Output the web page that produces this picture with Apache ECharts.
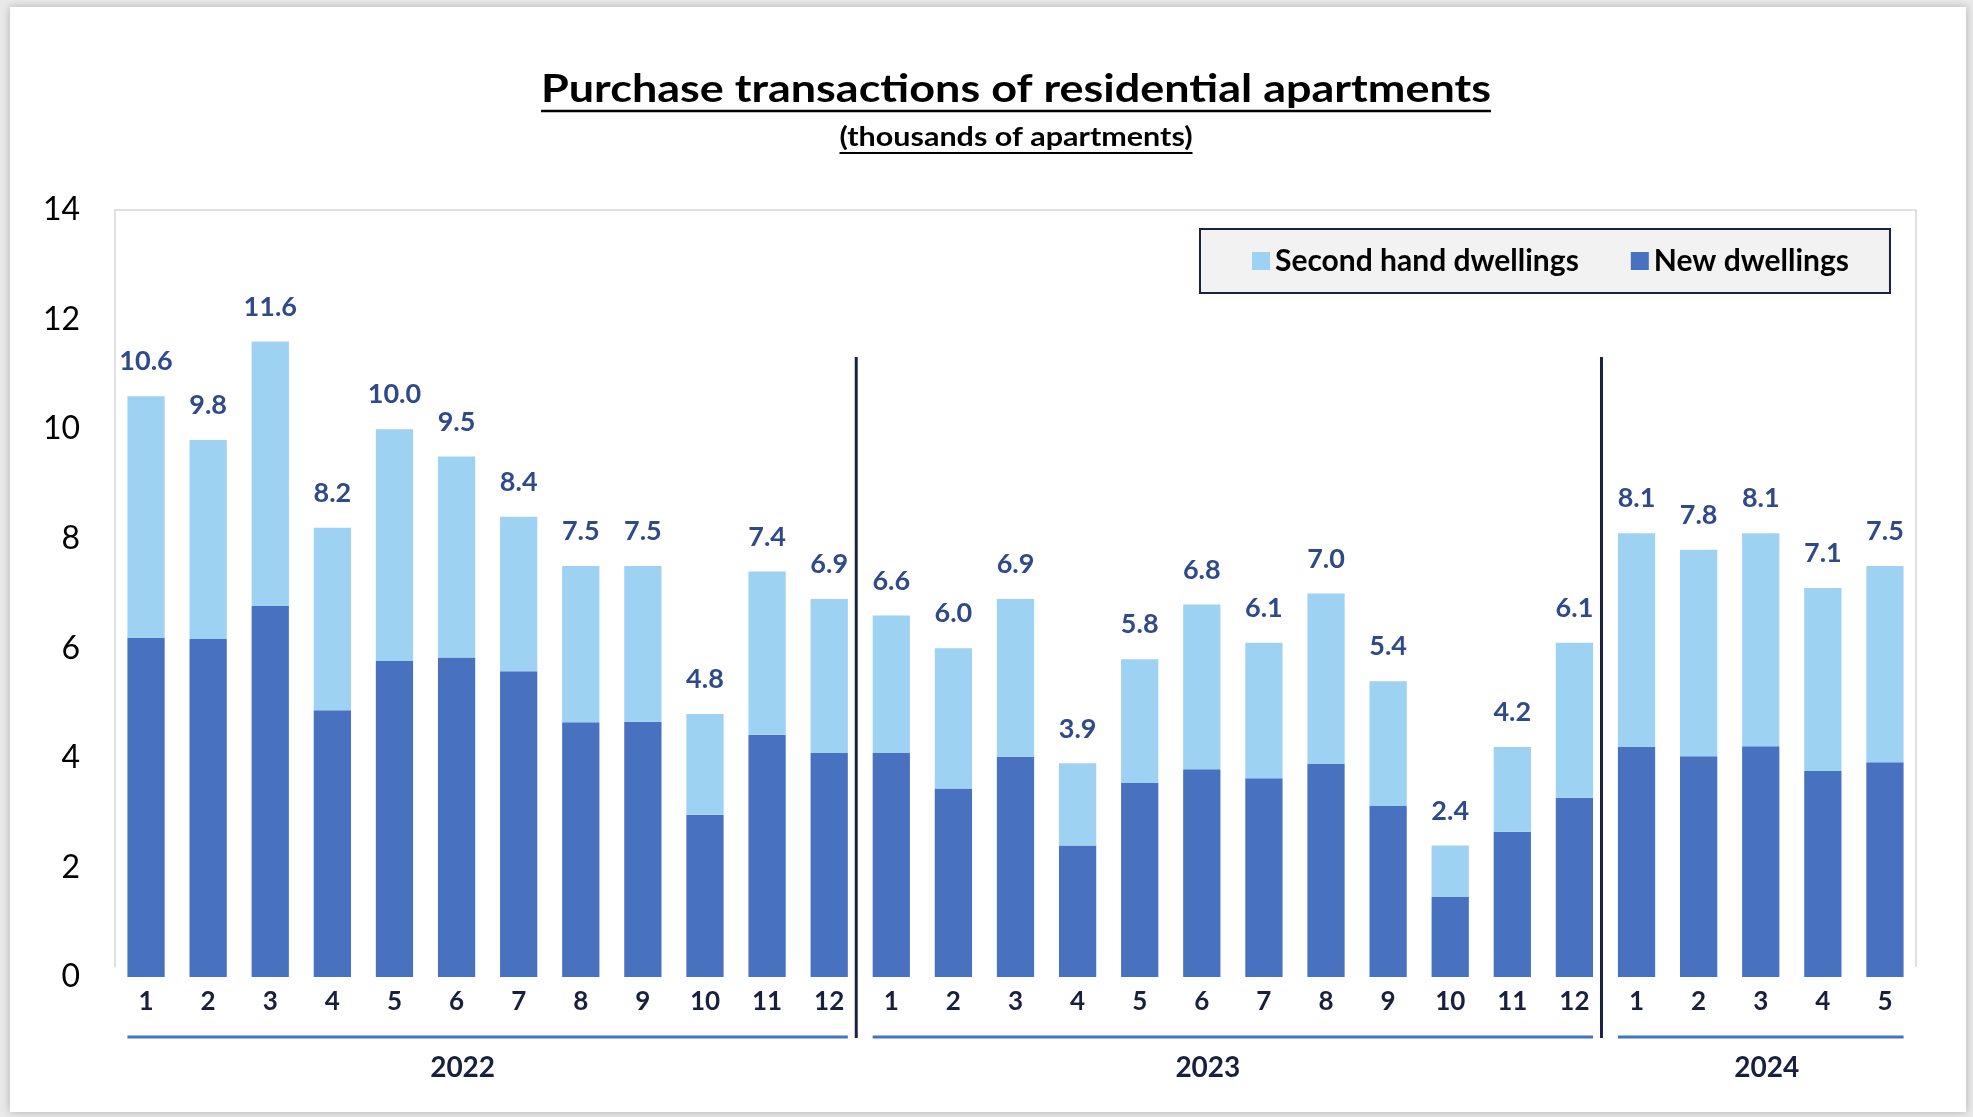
<!DOCTYPE html>
<html><head><meta charset="utf-8">
<script src="https://cdn.jsdelivr.net/npm/echarts@6/dist/echarts.min.js"></script>
<style>html,body{margin:0;padding:0;background:#e9e9e9;}#c{width:1973px;height:1117px;}</style>
</head><body><div id="c"></div>
<script>
// ---- data ----
const years = ['2022', '2023', '2024'];
const months2022 = ['1','2','3','4','5','6','7','8','9','10','11','12'];
const months2023 = ['1','2','3','4','5','6','7','8','9','10','11','12'];
const months2024 = ['1','2','3','4','5'];
const newDwellings = [6.19, 6.17, 6.77, 4.87, 5.77, 5.83, 5.58, 4.65, 4.66, 2.96, 4.42, 4.09,
                      4.09, 3.44, 4.02, 2.40, 3.54, 3.79, 3.63, 3.89, 3.12, 1.46, 2.65, 3.27,
                      4.20, 4.03, 4.21, 3.76, 3.92];
const secondHand = [4.41, 3.63, 4.83, 3.33, 4.23, 3.67, 2.82, 2.85, 2.84, 1.84, 2.98, 2.81,
                    2.51, 2.56, 2.88, 1.50, 2.26, 3.01, 2.47, 3.11, 2.28, 0.94, 1.55, 2.83,
                    3.90, 3.77, 3.89, 3.34, 3.58];
const yMin = 0, yMax = 14, yInterval = 2;
const seriesNames = ['Second hand dwellings', 'New dwellings'];
const titleText = 'Purchase transactions of residential apartments';
const subtitleText = '(thousands of apartments)';

// ---- build categories ----
const monthsByYear = [months2022, months2023, months2024];
const categories = [];
years.forEach((y, i) => monthsByYear[i].forEach(m => categories.push(y + '-' + m)));

const FONT = 'Lato, "Noto Sans", sans-serif';
const NAVY = '#18203d';
const GRID = {left: 115, right: 57, top: 210, bottom: 140};
const W = 1973, H = 1117;

const chart = echarts.init(document.getElementById('c'), null, {renderer: 'canvas', width: W, height: H});

const option = {
  animation: false,
  backgroundColor: '#e9e9e9',
  grid: Object.assign({show: false}, GRID),
  legend: {
    data: seriesNames,
    left: 1200, top: 229,
    icon: 'rect', itemWidth: 18, itemHeight: 18, itemGap: 52,
    backgroundColor: '#f2f2f2', borderColor: '#1a2240', borderWidth: 2,
    padding: [17, 41, 17, 52],
    textStyle: {fontFamily: FONT, fontWeight: 'bold', fontSize: 30, color: '#000'}
  },
  xAxis: {
    type: 'category', data: categories,
    axisLine: {show: false}, axisTick: {show: false},
    axisLabel: {interval: 0, formatter: v => v.split('-')[1], color: NAVY,
      fontFamily: FONT, fontWeight: 'bold', fontSize: 26, margin: 12}
  },
  yAxis: {
    type: 'value', min: yMin, max: yMax, interval: yInterval,
    splitLine: {show: false}, axisLine: {show: false}, axisTick: {show: false},
    axisLabel: {color: '#000', fontFamily: FONT, fontSize: 32, margin: 35}
  },
  series: [
    {name: seriesNames[1], type: 'bar', stack: 'total', data: newDwellings, barWidth: '60%',
     itemStyle: {color: '#4872c0'}, z: 3},
    {name: seriesNames[0], type: 'bar', stack: 'total', data: secondHand, barWidth: '60%',
     itemStyle: {color: '#9ed2f2'}, z: 3,
     label: {show: true, position: 'top', distance: 21,
       formatter: p => (newDwellings[p.dataIndex] + secondHand[p.dataIndex]).toFixed(1),
       color: '#2f4a8a', fontFamily: FONT, fontWeight: 'bold', fontSize: 27}}
  ]
};
chart.setOption(option);

// ---- decorations derived from the axis scale ----
const ctx = document.createElement('canvas').getContext('2d');
function textW(font, t) { ctx.font = font; return ctx.measureText(t).width; }

const px = i => chart.convertToPixel({xAxisIndex: 0}, categories[i]);
const band = px(1) - px(0);
const barHalf = band * 0.3;
const graphics = [];

// card
graphics.push({type: 'rect', z: -10, silent: true,
  shape: {x: 10, y: 7, width: W - 17, height: H - 12},
  style: {fill: '#ffffff', shadowBlur: 8, shadowColor: 'rgba(0,0,0,0.25)'}});
// plot border (top/left/right)
const gTop = GRID.top, gBot = H - GRID.bottom, gL = GRID.left, gR = W - GRID.right;
graphics.push({type: 'polyline', z: -5, silent: true,
  shape: {points: [[gL, gBot - 10], [gL, gTop], [gR, gTop], [gR, gBot - 10]]},
  style: {stroke: '#d6d6d6', lineWidth: 1.5, fill: null}});

// title + subtitle with underline (condensed horizontally like the original face)
const titleFont = 'bold 39px ' + FONT;
const subFont = 'bold 26px ' + FONT;
const cx = 1016;
const titleTarget = 950, subTarget = 353;
const ts = titleTarget / textW(titleFont, titleText);
const ss = subTarget / textW(subFont, subtitleText);
graphics.push({type: 'text', x: cx, y: 89, scaleX: ts, style: {text: titleText, font: titleFont, fill: '#000', align: 'center', verticalAlign: 'middle'}});
graphics.push({type: 'line', shape: {x1: cx - titleTarget / 2, y1: 111, x2: cx + titleTarget / 2, y2: 111}, style: {stroke: '#000', lineWidth: 2.5}});
graphics.push({type: 'text', x: cx, y: 138, scaleX: ss, style: {text: subtitleText, font: subFont, fill: '#000', align: 'center', verticalAlign: 'middle'}});
graphics.push({type: 'line', shape: {x1: cx - subTarget / 2, y1: 153, x2: cx + subTarget / 2, y2: 153}, style: {stroke: '#000', lineWidth: 2}});

// year groups
let start = 0;
years.forEach((y, gi) => {
  const n = monthsByYear[gi].length;
  const first = start, last = start + n - 1;
  const x1 = px(first) - barHalf, x2 = px(last) + barHalf;
  graphics.push({type: 'line', shape: {x1: x1, y1: 1037, x2: x2, y2: 1037}, style: {stroke: '#4472c4', lineWidth: 3}});
  graphics.push({type: 'text', x: (px(first) + px(last)) / 2 - (n > 6 ? 25 : -6), y: 1068,
    style: {text: y, font: 'bold 28px ' + FONT, fill: NAVY, align: 'center', verticalAlign: 'middle'}});
  if (gi < years.length - 1) {
    const bx = (px(last) + px(last + 1)) / 2 - 4;
    graphics.push({type: 'line', z: 10, shape: {x1: bx, y1: 357, x2: bx, y2: 1038}, style: {stroke: '#1a2240', lineWidth: 3}});
  }
  start += n;
});

chart.setOption({graphic: graphics});
</script>
</body></html>
